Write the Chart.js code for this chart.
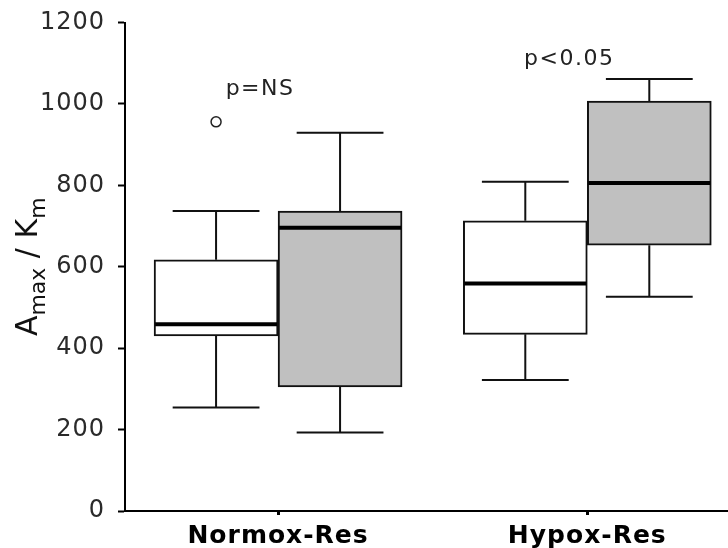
<!DOCTYPE html>
<html lang="en">
<head>
    <meta charset="UTF-8">
    <title>Amax / Km</title>
    <script src="https://cdn.jsdelivr.net/npm/chart.js"></script>
    <style>
      body { margin: 0; background: #fff; }
      #box { width: 728px; height: 548px; }
    </style>
</head>
<body>
  <div id="box"><canvas id="grafico" width="728" height="548"></canvas></div>
<script>
  // categorias e valores
  var categorias = ['Normox-Res', 'Hypox-Res'];
  var posicoes = [1, 2];

  // caixa branca
  var brancoMin = [254, 322];
  var brancoQ1 = [430, 434];
  var brancoMediana = [459, 559];
  var brancoQ3 = [617, 713];
  var brancoMax = [737, 809];
  var brancoOutliers = [[956], []];

  // caixa cinza
  var cinzaMin = [193, 526];
  var cinzaQ1 = [305, 653];
  var cinzaMediana = [696, 806];
  var cinzaQ3 = [737, 1007];
  var cinzaMax = [929, 1061];
  var cinzaOutliers = [[], []];

  var textosP = ['p=NS', 'p<0.05'];
  var ticksY = [0, 200, 400, 600, 800, 1000, 1200];

  function montaCaixas(q1, q3){
    var lista = [];
    for (var i = 0; i < posicoes.length; i++){
      lista.push({x: posicoes[i], y: [q1[i], q3[i]]});
    }
    return lista;
  }

  var series = [
    {min: brancoMin, q1: brancoQ1, med: brancoMediana, q3: brancoQ3, max: brancoMax, out: brancoOutliers},
    {min: cinzaMin, q1: cinzaQ1, med: cinzaMediana, q3: cinzaQ3, max: cinzaMax, out: cinzaOutliers}
  ];

  // o texto do original e largo, abre so um pouco o espacamento
  var pluginEspaco = {
    id: 'espaco',
    beforeDraw(chart){
      chart.ctx.letterSpacing = '1px';
    }
  };

  // bigodes, medianas e outliers desenhados em cima das barras
  var pluginBoxplot = {
    id: 'boxplot',
    afterDatasetsDraw(chart){
      var ctx = chart.ctx;
      var y = chart.scales.y;
      ctx.save();
      for (var d = 0; d < series.length; d++){
        var meta = chart.getDatasetMeta(d);
        var s = series[d];
        for (var i = 0; i < meta.data.length; i++){
          var bar = meta.data[i];
          var cx = bar.x;
          var w = bar.width;
          var cap = w * 0.35;
          ctx.strokeStyle = '#111';
          ctx.lineWidth = 2;
          ctx.beginPath();
          ctx.moveTo(cx, y.getPixelForValue(s.q3[i]));
          ctx.lineTo(cx, y.getPixelForValue(s.max[i]));
          ctx.moveTo(cx - cap, y.getPixelForValue(s.max[i]));
          ctx.lineTo(cx + cap, y.getPixelForValue(s.max[i]));
          ctx.moveTo(cx, y.getPixelForValue(s.q1[i]));
          ctx.lineTo(cx, y.getPixelForValue(s.min[i]));
          ctx.moveTo(cx - cap, y.getPixelForValue(s.min[i]));
          ctx.lineTo(cx + cap, y.getPixelForValue(s.min[i]));
          ctx.stroke();

          ctx.lineWidth = 4;
          ctx.strokeStyle = '#000';
          ctx.beginPath();
          ctx.moveTo(cx - w / 2 + 1, y.getPixelForValue(s.med[i]));
          ctx.lineTo(cx + w / 2 - 1, y.getPixelForValue(s.med[i]));
          ctx.stroke();

          ctx.lineWidth = 1.5;
          ctx.strokeStyle = '#222';
          for (var k = 0; k < s.out[i].length; k++){
            ctx.beginPath();
            ctx.arc(cx, y.getPixelForValue(s.out[i][k]), 5, 0, Math.PI * 2);
            ctx.stroke();
          }
        }
      }

      // textos de p acima de cada grupo
      var x = chart.scales.x;
      var alturas = [1022, 1096];
      ctx.fillStyle = '#222';
      ctx.font = '22px "DejaVu Sans"';
      ctx.letterSpacing = '1.5px';
      ctx.textAlign = 'center';
      ctx.textBaseline = 'alphabetic';
      for (var j = 0; j < textosP.length; j++){
        ctx.fillText(textosP[j], x.getPixelForValue(posicoes[j]) - 18, y.getPixelForValue(alturas[j]));
      }
      ctx.restore();
    }
  };

  // titulo do eixo y com subscritos
  var pluginTituloY = {
    id: 'tituloY',
    afterDraw(chart){
      var ctx = chart.ctx;
      var area = chart.chartArea;
      var partes = [
        {t: 'A', f: '30px "DejaVu Sans"', dy: 0},
        {t: 'max', f: '22px "DejaVu Sans"', dy: 8},
        {t: ' / ', f: '30px "DejaVu Sans"', dy: 0},
        {t: 'K', f: '30px "DejaVu Sans"', dy: 0},
        {t: 'm', f: '22px "DejaVu Sans"', dy: 8}
      ];
      ctx.save();
      ctx.letterSpacing = '0px';
      var total = 0;
      for (var i = 0; i < partes.length; i++){
        ctx.font = partes[i].f;
        partes[i].w = ctx.measureText(partes[i].t).width;
        total += partes[i].w;
      }
      ctx.translate(37, (area.top + area.bottom) / 2);
      ctx.rotate(-Math.PI / 2);
      ctx.fillStyle = '#111';
      ctx.textBaseline = 'alphabetic';
      var pos = -total / 2;
      for (var i = 0; i < partes.length; i++){
        ctx.font = partes[i].f;
        ctx.fillText(partes[i].t, pos, partes[i].dy);
        pos += partes[i].w;
      }
      ctx.restore();
    }
  };

  var grafico = new Chart(document.getElementById('grafico'), {
    type: 'bar',
    data: {
      datasets: [{
        label: 'branco',
        data: montaCaixas(brancoQ1, brancoQ3),
        backgroundColor: '#ffffff',
        borderColor: '#111',
        borderWidth: 2,
        borderSkipped: false,
        barThickness: 124
      },
      {
        label: 'cinza',
        data: montaCaixas(cinzaQ1, cinzaQ3),
        backgroundColor: '#c0c0c0',
        borderColor: '#111',
        borderWidth: 2,
        borderSkipped: false,
        barThickness: 124
      }]
    },
    options: {
      responsive: false,
      animation: false,
      devicePixelRatio: 1,
      layout: { padding: { top: 22.5, right: 0, left: 0, bottom: 0 } },
      plugins: { legend: { display: false }, tooltip: { enabled: false } },
      scales: {
        x: {
          type: 'linear',
          min: 0.505,
          max: 2.455,
          offset: false,
          afterBuildTicks: function(scale){
            scale.ticks = posicoes.map(function(v){ return {value: v}; });
          },
          afterFit: function(scale){
            scale.height = 37;
            scale.paddingLeft = 0;
            scale.paddingRight = 0;
          },
          ticks: {
            callback: function(v){ return categorias[posicoes.indexOf(v)]; },
            color: '#000',
            font: { family: 'DejaVu Sans', size: 25, weight: 'bold' },
            padding: 6,
            maxRotation: 0
          },
          grid: { offset: false, drawOnChartArea: false, tickLength: 4, tickWidth: 3, tickColor: '#000' },
          border: { color: '#000', width: 2 }
        },
        y: {
          min: 0,
          max: 1200,
          afterBuildTicks: function(scale){
            scale.ticks = ticksY.map(function(v){ return {value: v}; });
          },
          afterFit: function(scale){
            scale.width = 125;
            scale.paddingTop = 0;
            scale.paddingBottom = 0;
          },
          ticks: {
            callback: function(v){ return String(v); },
            color: '#2a2a2a',
            font: { family: 'DejaVu Sans', size: 24 },
            padding: 13
          },
          grid: { drawOnChartArea: false, tickLength: 7, tickWidth: 2, tickColor: '#000' },
          border: { color: '#000', width: 2 }
        }
      }
    },
    plugins: [pluginEspaco, pluginBoxplot, pluginTituloY]
  });
</script>
</body>
</html>
